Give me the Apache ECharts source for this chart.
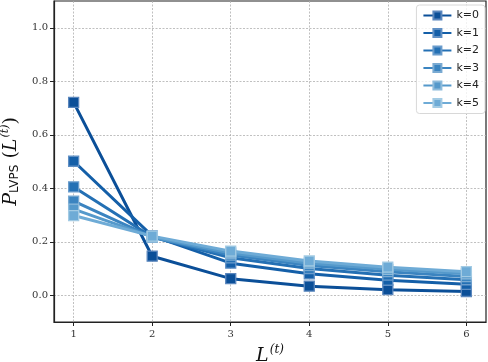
<!DOCTYPE html>
<html><head><meta charset="utf-8">
<script src="https://cdn.jsdelivr.net/npm/echarts@6/dist/echarts.min.js"></script>
<style>html,body{margin:0;padding:0;background:#fff}#c{width:488px;height:362px}</style>
</head><body><div id="c"></div>
<script>
const xValues = [1, 2, 3, 4, 5, 6];
const seriesNames = ['k=0', 'k=1', 'k=2', 'k=3', 'k=4', 'k=5'];
const k0 = [0.721, 0.146, 0.062, 0.034, 0.021, 0.014];
const k1 = [0.501, 0.222, 0.120, 0.080, 0.056, 0.041];
const k2 = [0.405, 0.218, 0.140, 0.100, 0.075, 0.058];
const k3 = [0.352, 0.217, 0.150, 0.111, 0.088, 0.070];
const k4 = [0.322, 0.218, 0.158, 0.120, 0.097, 0.080];
const k5 = [0.298, 0.221, 0.165, 0.128, 0.105, 0.088];
const yTicks = [0.0, 0.2, 0.4, 0.6, 0.8, 1.0];
const xTicks = [1, 2, 3, 4, 5, 6];
const colors = ['#0b4f98', '#145fa8', '#2470b4', '#3b84c0', '#5599cb', '#6eabd6'];
const edgeColors = ['#5a86bd', '#5f8fc4', '#6a9ccc', '#7aaad2', '#8ebbdb', '#a3cbe4'];
const allData = [k0, k1, k2, k3, k4, k5];

const chart = echarts.init(document.getElementById('c'), null, {renderer: 'canvas'});
const serif = 'DejaVu Serif';
chart.setOption({
  animation: false,
  grid: {left: 54, right: 2, top: 1, bottom: 40, show: true, borderColor: '#222', borderWidth: 1.2,
    containLabel: false, outerBoundsMode: 'none'},
  legend: {
    orient: 'vertical', right: 3, top: 5, itemWidth: 28, itemHeight: 10, itemGap: 6.5,
    padding: [5, 6, 5, 6],
    borderColor: '#d8d8d8', borderWidth: 1, borderRadius: 3, backgroundColor: 'rgba(255,255,255,0.8)',
    textStyle: {fontFamily: 'DejaVu Sans', fontSize: 11, color: '#222'},
    data: seriesNames
  },
  xAxis: {
    type: 'value', min: 0.75, max: 6.25,
    name: '{i|L}{sup|(t)}', nameLocation: 'middle', nameGap: 15,
    nameTextStyle: {rich: {
      i: {fontFamily: serif, fontStyle: 'italic', fontSize: 19, color: '#111', verticalAlign: 'bottom'},
      sup: {fontFamily: serif, fontStyle: 'italic', fontSize: 12, color: '#111', verticalAlign: 'top', padding: [0, 0, 10, 1]}
    }},
    axisLine: {show: true, onZero: false, lineStyle: {color: '#222', width: 1.2}},
    axisTick: {show: true, customValues: xTicks, length: 4, lineStyle: {color: '#222'}},
    axisLabel: {customValues: xTicks, fontFamily: serif, fontSize: 10, color: '#333', margin: 7},
    splitLine: {show: true, customValues: xTicks, lineStyle: {color: '#b0b0b0', type: [2, 1.5], width: 0.8}}
  },
  yAxis: {
    type: 'value', min: -0.1, max: 1.1,
    name: '{i|P}{s|LVPS}{n| (}{i|L}{sup|(t)}{n|)}', nameLocation: 'middle', nameGap: 30, nameRotate: 90,
    nameTextStyle: {rich: {
      i: {fontFamily: serif, fontStyle: 'italic', fontSize: 19, color: '#111'},
      n: {fontFamily: serif, fontSize: 19, color: '#111'},
      s: {fontFamily: 'DejaVu Sans', fontSize: 12, color: '#111', padding: [8, 0, 0, 0]},
      sup: {fontFamily: serif, fontStyle: 'italic', fontSize: 11, color: '#111', padding: [0, 0, 12, 1]}
    }},
    axisLine: {show: true, onZero: false, lineStyle: {color: '#222', width: 1.2}},
    axisTick: {show: true, customValues: yTicks, length: 4, lineStyle: {color: '#222'}},
    axisLabel: {customValues: yTicks, fontFamily: serif, fontSize: 10, color: '#333', margin: 6,
      formatter: v => v.toFixed(1)},
    splitLine: {show: true, customValues: yTicks, lineStyle: {color: '#b0b0b0', type: [2, 1.5], width: 0.8}}
  },
  series: allData.map((d, i) => ({
    name: seriesNames[i], type: 'line',
    data: d.map((v, j) => [xValues[j], v]),
    symbol: 'rect', symbolSize: 10,
    lineStyle: {color: colors[i], width: 3},
    itemStyle: {color: colors[i], borderColor: edgeColors[i], borderWidth: 1.3},
    z: 10 + i
  }))
});
</script></body></html>
